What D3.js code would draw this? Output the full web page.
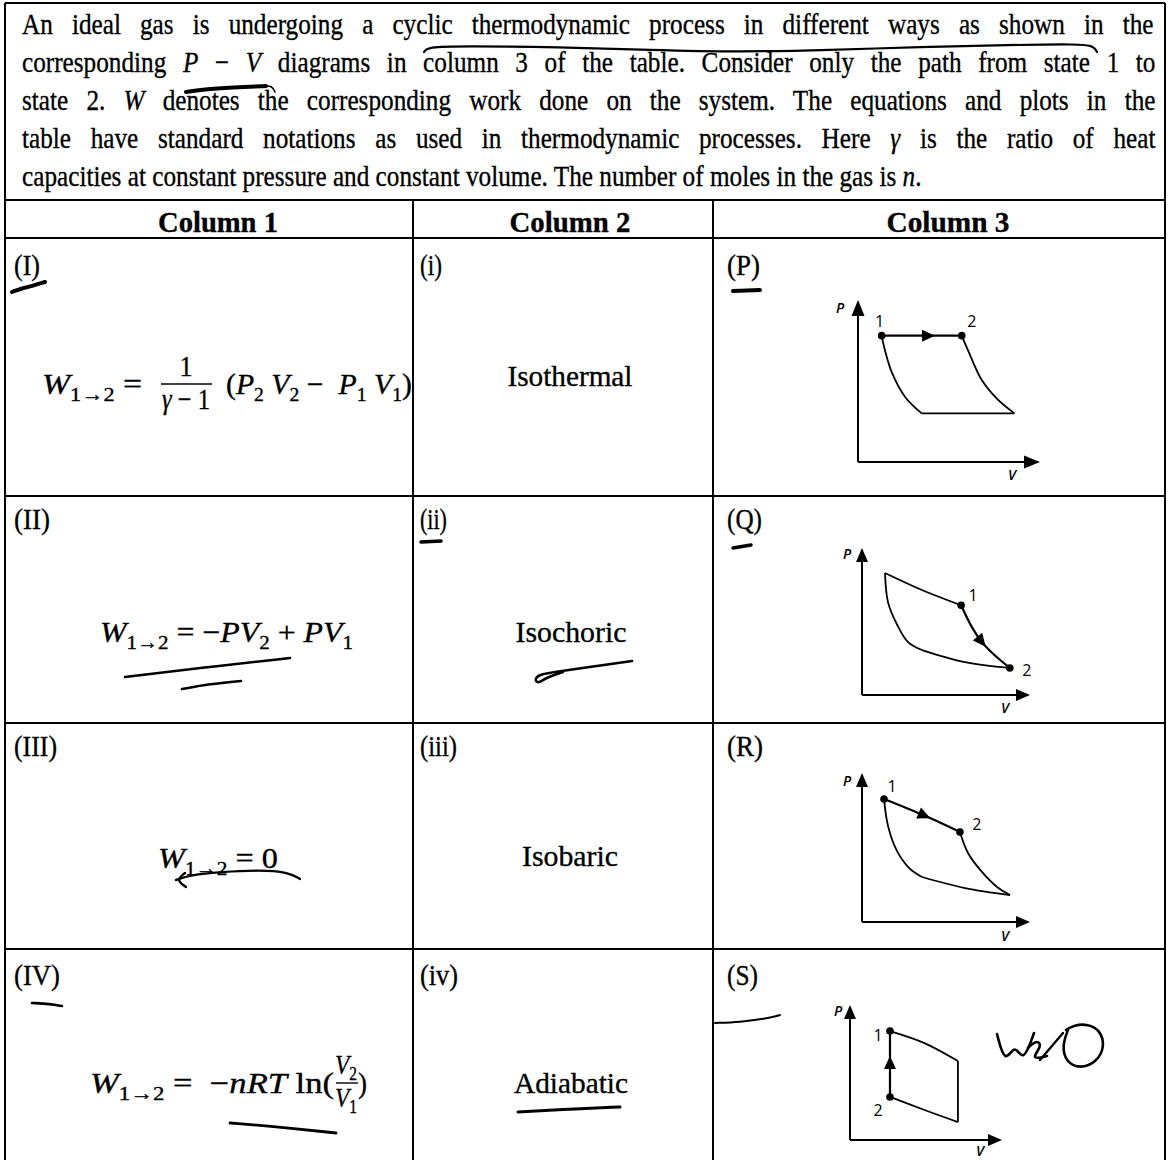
<!DOCTYPE html>
<html><head><meta charset="utf-8">
<script src="https://cdn.jsdelivr.net/npm/d3@7"></script>
<style>body{margin:0;background:#fff}svg{display:block}</style>
</head><body><div id="chart"></div>
<script>
// ---------------- DATA ----------------
const introLines = [
  [{t:"An ideal gas is undergoing a cyclic thermodynamic process in different ways as shown in the"}],
  [{t:"corresponding "},{t:"P",i:1},{t:" − "},{t:"V",i:1},{t:" diagrams in column 3 of the table. Consider only the path from state 1 to"}],
  [{t:"state 2. "},{t:"W",i:1},{t:" denotes the corresponding work done on the system. The equations and plots in the"}],
  [{t:"table have standard notations as used in thermodynamic processes. Here "},{t:"γ",i:1},{t:" is the ratio of heat"}],
  [{t:"capacities at constant pressure and constant volume. The number of moles in the gas is "},{t:"n",i:1},{t:"."}]
];
const columnHeaders = ["Column 1","Column 2","Column 3"];
const col1Labels = ["(I)","(II)","(III)","(IV)"];
const col2Labels = ["(i)","(ii)","(iii)","(iv)"];
const col3Labels = ["(P)","(Q)","(R)","(S)"];
const processNames = ["Isothermal","Isochoric","Isobaric","Adiabatic"];

// work formulas (segments)
const formulaI_left  = [{t:"W",i:1},{t:"1→2",sub:1},{t:" ="}];
const formulaI_num   = [{t:"1"}];
const formulaI_den   = [{t:"γ",i:1},{t:" − 1"}];
const formulaI_right = [{t:"("},{t:"P",i:1},{t:"2",sub:1},{t:" "},{t:"V",i:1},{t:"2",sub:1},{t:" −  "},{t:"P",i:1},{t:"1",sub:1},{t:" "},{t:"V",i:1},{t:"1",sub:1},{t:")"}];
const formulaII      = [{t:"W",i:1},{t:"1→2",sub:1},{t:" = −"},{t:"PV",i:1},{t:"2",sub:1},{t:" + "},{t:"PV",i:1},{t:"1",sub:1}];
const formulaIII     = [{t:"W",i:1},{t:"1→2",sub:1},{t:" = 0"}];
const formulaIV_left = [{t:"W",i:1},{t:"1→2",sub:1},{t:" =  −"},{t:"nRT",i:1},{t:" ln("}];
const formulaIV_num  = [{t:"V",i:1},{t:"2",sub:1}];
const formulaIV_den  = [{t:"V",i:1},{t:"1",sub:1}];
const formulaIV_right= [{t:")"}];

// P-V diagrams (arbitrary units, axes 0..10)
const pvP = {
  s1:[1.3,7.8], s2:[5.7,7.8],
  path12:[[1.3,7.8],[5.7,7.8]],
  others:[
    [[1.3,7.8],[1.48,6.9],[1.87,5.5],[2.6,4.0],[3.5,3.0]],
    [[3.5,3.0],[8.6,3.0]],
    [[5.7,7.8],[6.04,6.9],[6.8,5.06],[7.7,3.83],[8.6,3.0]]
  ],
  arrow:{at:[3.9,7.8], dir:[1,0]}
};
const pvQ = {
  s1:[5.9,6.1], s2:[8.8,1.84],
  path12:[[5.9,6.1],[6.55,4.6],[7.14,3.6],[7.9,2.7],[8.8,1.84]],
  others:[
    [[1.37,8.3],[3.57,7.14],[5.9,6.1]],
    [[1.37,8.3],[1.55,6.3],[2.1,4.76],[2.74,3.6],[3.57,3.06]],
    [[3.57,3.06],[6.13,2.24],[8.8,1.84]]
  ],
  arrow:{at:[7.14,3.6], dir:[1.35,-1.9]}
};
const pvR = {
  s1:[1.31,8.26], s2:[5.83,6.04],
  path12:[[1.31,8.26],[3.75,7.13],[5.83,6.04]],
  others:[
    [[1.31,8.26],[1.55,6.44],[2.08,4.77],[2.86,3.56],[3.57,3.02]],
    [[5.83,6.04],[6.31,4.63],[7.14,3.36],[8.04,2.35],[8.81,1.81]],
    [[3.57,3.02],[6.13,2.28],[8.81,1.81]]
  ],
  arrow:{at:[3.75,7.13], dir:[4.5,-2.2]}
};
const pvS = {
  s1:[2.63,8.07], s2:[2.63,3.19],
  path12:[[2.63,8.07],[2.63,3.19]],
  others:[
    [[2.63,8.07],[4.9,7.18],[7.1,5.85]],
    [[7.1,5.85],[7.1,1.33]],
    [[2.63,3.19],[4.9,2.22],[7.1,1.33]]
  ],
  arrow:{at:[2.63,5.78], dir:[0,1]}
};
const pvData = [pvP, pvQ, pvR, pvS];

// handwritten annotations (page coordinates)
const scribbles = [
  {w:2.2, pts:[[424,52],[428,47],[460,46],[560,47],[650,50],[740,52],[830,50],[920,47],[1010,45],[1080,44],[1094,46],[1097,52]]},
  {w:4, pts:[[186,92],[205,89],[240,87],[266,86]]},
  {w:1.6, pts:[[266,86],[272,86],[275,92]]},
  {w:4, pts:[[12,292],[20,289],[32,286],[45,282]]},
  {w:4, pts:[[733,291],[760,290]]},
  {w:3.5, pts:[[421,542],[441,541]]},
  {w:3.5, pts:[[733,548],[751,545]]},
  {w:2.6, pts:[[125,677],[200,668],[290,658]]},
  {w:2.6, pts:[[182,689],[210,684],[241,681]]},
  {w:2.6, pts:[[632,661],[590,667],[555,672],[541,674],[534,679],[538,684],[545,678],[563,672]]},
  {w:2.4, pts:[[300,879],[288,872],[260,870],[220,872],[190,875],[176,880]]},
  {w:2.4, pts:[[185,873],[176,880],[186,887]]},
  {w:2.6, pts:[[32,1003],[50,1004],[62,1006]]},
  {w:2.8, pts:[[230,1123],[280,1127],[336,1133]]},
  {w:3, pts:[[518,1112],[570,1109],[620,1107]]},
  {w:2, pts:[[715,1023],[740,1022],[765,1019],[780,1015]]},
  {w:2.6, pts:[[997,1034],[1005,1065],[1015,1042],[1023,1064],[1034,1033]]},
  {w:2.6, pts:[[1028,1048],[1036,1040],[1043,1045],[1030,1060],[1047,1056]]},
  {w:2.4, pts:[[1040,1060],[1063,1033]]},
  {w:2.6, pts:[[1068,1030],[1062,1046],[1066,1062],[1080,1069],[1097,1062],[1105,1046],[1100,1030],[1088,1024],[1074,1025],[1066,1030]]}
];

// ---------------- LAYOUT ----------------
const W = 1170, H = 1160;
const L = {
  left:5, right:1165, top:3, introBottom:200, headBottom:238,
  rows:[238,496,723,949,1162], colX:[5,413,713,1165],
  serif:"'Liberation Serif','Times New Roman',serif",
  sans:"'Open Sans','Liberation Sans',Arial,sans-serif",
  fs:30, weight:0.35
};
const introLayout = [
  {y:34, w:1132},{y:72, w:1134},{y:110, w:1134},{y:148, w:1134},{y:186, w:900}
];
const headLayout = [{cx:218,w:120},{cx:570,w:121},{cx:948,w:123}];
const labelLayout = {
  col1:[{x:14,y:275,w:26},{x:14,y:529,w:36},{x:14,y:756,w:43},{x:14,y:985,w:46}],
  col2:[{x:420,y:275,w:22},{x:420,y:529,w:27},{x:420,y:756,w:37},{x:420,y:985,w:38}],
  col3:[{x:727,y:275,w:33},{x:727,y:529,w:35},{x:727,y:756,w:36},{x:727,y:985,w:31}]
};
const nameLayout = [{cx:570,y:386,w:125},{cx:571,y:642,w:111},{cx:570,y:866,w:96},{cx:571,y:1093,w:114}];
const pvLayout = [
  {ox:858, oy:462, xt:1040, yt:300, ah:16, aw:13, lab1:[-2,-15], lab2:[10,-15], pl:[-18,7], vl:[-28,12]},
  {ox:862, oy:695, xt:1030, yt:548, ah:14, aw:12, lab1:[12,-10], lab2:[17,2],  pl:[-15,5], vl:[-25,12]},
  {ox:862, oy:922, xt:1030, yt:773, ah:14, aw:12, lab1:[8,-13], lab2:[17,-8],  pl:[-15,7], vl:[-25,13]},
  {ox:850, oy:1140,xt:1002, yt:1005,ah:14, aw:12, lab1:[-12,4], lab2:[-12,13], pl:[-12,5], vl:[-22,10]}
];

// ---------------- DRAW ----------------
const svg = d3.select("#chart").append("svg").attr("width",W).attr("height",H)
  .attr("viewBox",`0 0 ${W} ${H}`);
svg.append("rect").attr("width",W).attr("height",H).attr("fill","#fff");

function segText(parent, segs, opts={}) {
  const fs = opts.fs || L.fs;
  const t = parent.append("text").attr("x",0).attr("y",0)
    .attr("font-family", opts.family || L.serif).attr("font-size",fs)
    .attr("font-weight", opts.bold ? "bold" : "normal").attr("fill","#000")
    .attr("stroke","#000").attr("stroke-width", L.weight)
    .style("white-space","pre");
  let shifted = false;
  segs.forEach(s => {
    const sp = t.append("tspan").text(s.t);
    if (s.i) sp.attr("font-style","italic");
    if (s.sub) {
      sp.attr("font-size", fs*0.66);
      if (!shifted) { sp.attr("dy", fs*0.22); shifted = true; }
    } else if (shifted) { sp.attr("dy", -fs*0.22); shifted = false; }
  });
  return t;
}
function place(t, x, y, w, anchor="start") {
  const nat = t.node().getComputedTextLength();
  const s = w ? w/nat : 1;
  const width = nat*s;
  const x0 = anchor==="middle" ? x - width/2 : x;
  t.attr("transform", `translate(${x0},${y}) scale(${s},1)`);
  return s;
}

// table lines
const grid = svg.append("g").attr("stroke","#000").attr("stroke-width",2);
grid.append("line").attr("x1",L.left).attr("x2",L.right).attr("y1",L.top).attr("y2",L.top);
grid.append("line").attr("x1",L.left).attr("x2",L.right).attr("y1",L.introBottom).attr("y2",L.introBottom);
L.rows.slice(0,4).forEach(y => grid.append("line").attr("x1",L.left).attr("x2",L.right).attr("y1",y).attr("y2",y));
grid.append("line").attr("x1",L.left).attr("x2",L.left).attr("y1",L.top).attr("y2",H);
grid.append("line").attr("x1",L.right).attr("x2",L.right).attr("y1",L.top).attr("y2",H);
[L.colX[1],L.colX[2]].forEach(x => grid.append("line").attr("x1",x).attr("x2",x).attr("y1",L.introBottom).attr("y2",H));

// intro text: common glyph compression from last line, then justify others via word-spacing
const lastIdx = introLines.length-1;
const lastT = segText(svg, introLines[lastIdx]);
const sx = place(lastT, 22, introLayout[lastIdx].y, introLayout[lastIdx].w);
introLines.slice(0,lastIdx).forEach((segs,i) => {
  const t = segText(svg, segs);
  const nat = t.node().getComputedTextLength();
  const full = segs.map(s=>s.t).join("");
  const nSpaces = (full.match(/ /g)||[]).length;
  const extra = (introLayout[i].w/sx - nat)/nSpaces;
  t.attr("word-spacing", extra);
  t.attr("transform", `translate(22,${introLayout[i].y}) scale(${sx},1)`);
});

// headers
columnHeaders.forEach((h,i) => place(segText(svg,[{t:h}],{bold:true}), headLayout[i].cx, 232, headLayout[i].w, "middle"));

// row labels
[[col1Labels,"col1"],[col2Labels,"col2"],[col3Labels,"col3"]].forEach(([labs,key]) => {
  labs.forEach((lab,i) => { const p = labelLayout[key][i]; place(segText(svg,[{t:lab}]), p.x, p.y, p.w); });
});

// process names
processNames.forEach((n,i) => { const p = nameLayout[i]; place(segText(svg,[{t:n}]), p.cx, p.y, p.w, "middle"); });

// formulas
place(segText(svg, formulaI_left, {fs:30}), 42, 394, 100);
place(segText(svg, formulaI_num, {fs:30}), 186, 376, 13, "middle");
svg.append("line").attr("x1",161).attr("x2",212).attr("y1",384).attr("y2",384).attr("stroke","#000").attr("stroke-width",1.6);
place(segText(svg, formulaI_den, {fs:30}), 186, 409, 48, "middle");
place(segText(svg, formulaI_right, {fs:30}), 226, 394, 186);
place(segText(svg, formulaII, {fs:30}), 100, 642, 253);
place(segText(svg, formulaIII, {fs:30}), 158, 868, 120);
place(segText(svg, formulaIV_left, {fs:30}), 90, 1093, 244);
place(segText(svg, formulaIV_num, {fs:28}), 346, 1074, 22, "middle");
svg.append("line").attr("x1",336).attr("x2",358).attr("y1",1083).attr("y2",1083).attr("stroke","#000").attr("stroke-width",1.4);
place(segText(svg, formulaIV_den, {fs:28}), 346, 1107, 22, "middle");
place(segText(svg, formulaIV_right, {fs:30}), 358, 1093, 9);

// P-V diagrams
function tri(g, x, y, angle, len, wid) {
  g.append("path").attr("d", `M0,0 L${-len},${-wid/2} L${-len},${wid/2} Z`)
   .attr("transform", `translate(${x},${y}) rotate(${angle})`).attr("fill","#000");
}
pvData.forEach((d,k) => {
  const lay = pvLayout[k];
  const x = d3.scaleLinear().domain([0,10]).range([lay.ox, lay.xt]);
  const y = d3.scaleLinear().domain([0,10]).range([lay.oy, lay.yt]);
  const g = svg.append("g");
  const line = d3.line().x(p=>x(p[0])).y(p=>y(p[1])).curve(d3.curveCatmullRom.alpha(0.5));
  g.append("line").attr("x1",x(0)).attr("y1",y(0)).attr("x2",x(0)).attr("y2",y(10)+lay.ah-2).attr("stroke","#000").attr("stroke-width",2);
  g.append("line").attr("x1",x(0)).attr("y1",y(0)).attr("x2",x(10)-lay.ah+2).attr("y2",y(0)).attr("stroke","#000").attr("stroke-width",2);
  tri(g, x(0), y(10), -90, lay.ah, lay.aw);
  tri(g, x(10), y(0), 0, lay.ah, lay.aw);
  g.append("text").attr("x",x(0)+lay.pl[0]).attr("y",y(10)+lay.pl[1]).attr("font-family",L.sans)
    .attr("font-style","italic").attr("font-weight","600").attr("font-size",14).attr("text-anchor","middle").attr("dominant-baseline","central").text("P");
  g.append("text").attr("x",x(10)+lay.vl[0]).attr("y",y(0)+lay.vl[1]).attr("font-family",L.sans)
    .attr("font-style","italic").attr("font-weight","600").attr("font-size",14).attr("text-anchor","middle").attr("dominant-baseline","central").text("V");
  d.others.forEach(c => g.append("path").attr("d",line(c)).attr("fill","none").attr("stroke","#000").attr("stroke-width",1.8));
  g.append("path").attr("d",line(d.path12)).attr("fill","none").attr("stroke","#000").attr("stroke-width",2.2);
  const ax = x(d.arrow.at[0]), ay = y(d.arrow.at[1]);
  const dx = x(d.arrow.at[0]+d.arrow.dir[0]) - ax, dy = y(d.arrow.at[1]+d.arrow.dir[1]) - ay;
  const rad = Math.atan2(dy,dx);
  tri(g, ax + Math.cos(rad)*6, ay + Math.sin(rad)*6, rad*180/Math.PI, 13, 12);
  [d.s1,d.s2].forEach(s => g.append("circle").attr("cx",x(s[0])).attr("cy",y(s[1])).attr("r",3.8).attr("fill","#000"));
  g.append("text").attr("x",x(d.s1[0])+lay.lab1[0]).attr("y",y(d.s1[1])+lay.lab1[1]).attr("font-family",L.sans)
    .attr("font-size",16).attr("text-anchor","middle").attr("dominant-baseline","central").text("1");
  g.append("text").attr("x",x(d.s2[0])+lay.lab2[0]).attr("y",y(d.s2[1])+lay.lab2[1]).attr("font-family",L.sans)
    .attr("font-size",16).attr("text-anchor","middle").attr("dominant-baseline","central").text("2");
});

// handwritten scribbles
const px = d3.scaleIdentity(), py = d3.scaleIdentity();
const sl = d3.line().x(p=>px(p[0])).y(p=>py(p[1])).curve(d3.curveBasis);
scribbles.forEach(s => svg.append("path").attr("d",sl(s.pts)).attr("fill","none").attr("stroke","#000")
  .attr("stroke-width",s.w).attr("stroke-linecap","round").attr("stroke-linejoin","round"));
</script>
</body></html>
